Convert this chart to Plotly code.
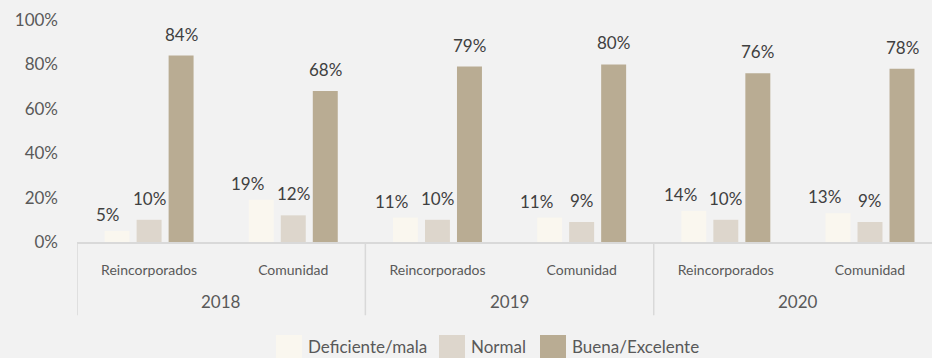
import plotly.graph_objects as go

# Survey results by year and population group (share of respondents, %)
years = ["2018", "2019", "2020"]
groups = ["Reincorporados", "Comunidad"]
categories = [f"{g} {y}" for y in years for g in groups]
group_labels = [g for y in years for g in groups]

series_names = ["Deficiente/mala", "Normal", "Buena/Excelente"]
deficiente = [5, 19, 11, 11, 14, 13]
normal = [10, 12, 10, 9, 10, 9]
buena = [84, 68, 79, 80, 76, 78]
series_values = [deficiente, normal, buena]
series_colors = ["#FAF7EF", "#DDD6CC", "#B9AC93"]

y_ticks = [0, 20, 40, 60, 80, 100]
y_tick_labels = [f"{t}%" for t in y_ticks]

BG = "#F2F2F2"
FONT = "Lato, 'Open Sans', sans-serif"
BAR_GAP = 0.334
GROUP_GAP = 0.22
W, H = 932, 358
M_L, M_R, M_T, M_B = 77, 0, 20, 116
PLOT_W = W - M_L - M_R
PLOT_H = H - M_T - M_B
positions = list(range(len(categories)))


def px_to_paper_x(px):
    return (px - M_L) / PLOT_W


def px_to_paper_y(py):
    return (H - M_B - py) / PLOT_H


fig = go.Figure()
for name, vals, color in zip(series_names, series_values, series_colors):
    fig.add_trace(go.Bar(
        name=name,
        x=positions,
        y=vals,
        marker=dict(color=color, line=dict(width=0)),
        showlegend=False,
    ))

# value labels above each bar; first series labels sit left of their bar
slot = (1 - BAR_GAP) / len(series_values)
for j, vals in enumerate(series_values):
    offset = (j - (len(series_values) - 1) / 2) * slot
    for i, v in enumerate(vals):
        first = j == 0
        fig.add_annotation(
            x=positions[i] + offset, y=v, xref="x", yref="y",
            text=f"{v}%", showarrow=False,
            xanchor="right" if first else "center",
            xshift=5 if first else 0,
            yanchor="bottom",
            yshift=4 if first else 9,
            font=dict(family=FONT, size=17, color="#404040"),
        )

# year labels under each pair of groups
for i, yr in enumerate(years):
    fig.add_annotation(
        x=2 * i + 0.5, y=-0.27, xref="x", yref="paper",
        text=yr, showarrow=False, yanchor="middle",
        font=dict(family=FONT, size=17, color="#595959"),
    )

# divider lines between year blocks
for b in [-0.5, 1.5, 3.5]:
    fig.add_shape(
        type="line", xref="x", yref="paper",
        x0=b, x1=b, y0=0, y1=-0.33,
        line=dict(color="#D9D9D9", width=1.5),
    )

# legend with large square swatches along the bottom edge
legend_swatch_left_px = [276, 439, 540]
SWATCH = 26
swatch_top = 335
label_mid = 346
for name, color, left in zip(series_names, series_colors, legend_swatch_left_px):
    fig.add_shape(
        type="rect", xref="paper", yref="paper",
        x0=px_to_paper_x(left), x1=px_to_paper_x(left + SWATCH),
        y0=px_to_paper_y(swatch_top), y1=px_to_paper_y(swatch_top + SWATCH),
        fillcolor=color, line=dict(width=0), layer="above",
    )
    fig.add_annotation(
        x=px_to_paper_x(left + SWATCH + 5), y=px_to_paper_y(label_mid),
        xref="paper", yref="paper", text=name, showarrow=False,
        xanchor="left", yanchor="middle", borderpad=0,
        font=dict(family=FONT, size=17, color="#595959"),
    )

fig.update_layout(
    width=W, height=H,
    paper_bgcolor=BG, plot_bgcolor=BG,
    margin=dict(l=M_L, r=M_R, t=M_T, b=M_B, autoexpand=False),
    barmode="group",
    bargap=BAR_GAP,
    bargroupgap=GROUP_GAP,
    font=dict(family=FONT, color="#595959"),
    showlegend=False,
    xaxis=dict(
        range=[-0.5, 5.43],
        tickvals=positions,
        ticktext=group_labels,
        tickfont=dict(family=FONT, size=14, color="#595959"),
        ticks="",
        ticklabelstandoff=14,
        showgrid=False,
        zeroline=False,
        showline=True,
        linecolor="#D9D9D9",
        linewidth=1.5,
        fixedrange=True,
    ),
    yaxis=dict(
        range=[0, 100],
        tickvals=y_ticks,
        ticktext=y_tick_labels,
        tickfont=dict(family=FONT, size=17, color="#595959"),
        ticks="",
        ticklabelstandoff=18,
        showgrid=False,
        zeroline=False,
        showline=False,
        fixedrange=True,
    ),
)

fig.write_html("out.html")
